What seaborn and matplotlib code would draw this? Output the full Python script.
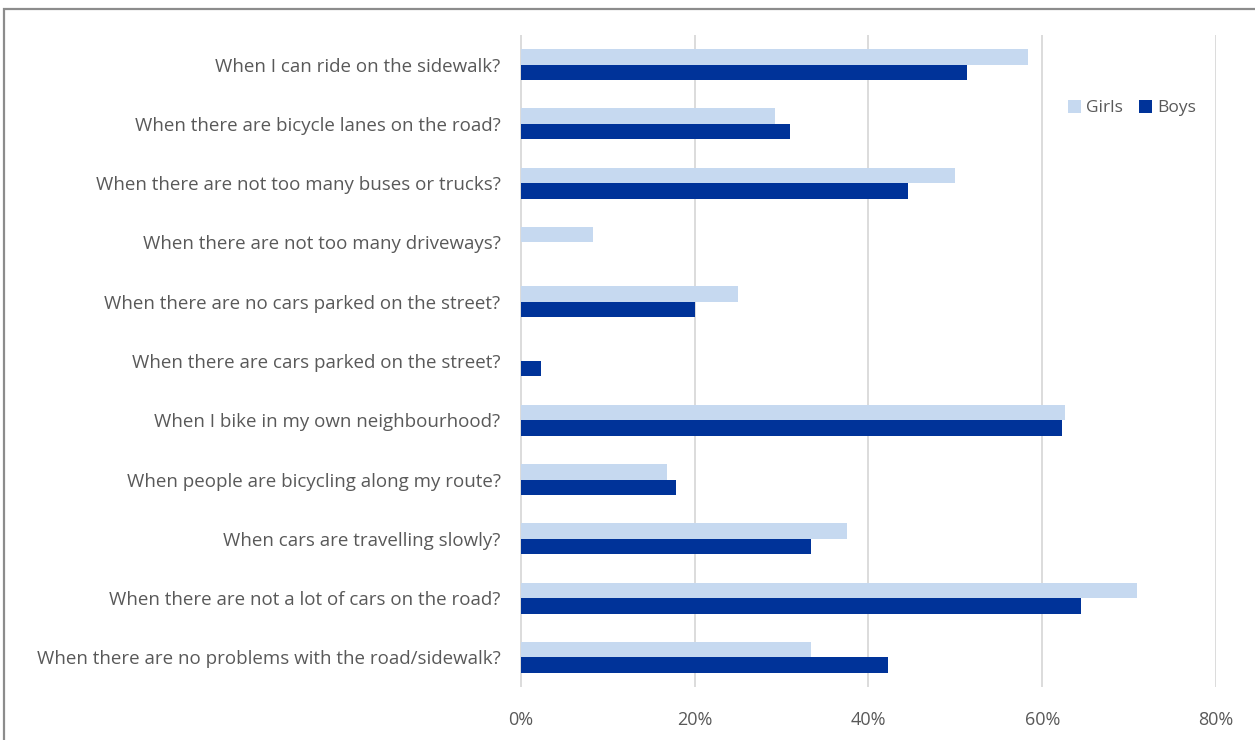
import matplotlib
matplotlib.use("Agg")
import matplotlib.pyplot as plt
from matplotlib.patches import Rectangle
from matplotlib.ticker import FuncFormatter
import pandas as pd
import seaborn as sns

questions = [
    "When I can ride on the sidewalk?",
    "When there are bicycle lanes on the road?",
    "When there are not too many buses or trucks?",
    "When there are not too many driveways?",
    "When there are no cars parked on the street?",
    "When there are cars parked on the street?",
    "When I bike in my own neighbourhood?",
    "When people are bicycling along my route?",
    "When cars are travelling slowly?",
    "When there are not a lot of cars on the road?",
    "When there are no problems with the road/sidewalk?",
]
girls = [58.4, 29.2, 50.0, 8.3, 25.0, 0.0, 62.6, 16.8, 37.5, 70.9, 33.4]
boys = [51.3, 31.0, 44.5, 0.0, 20.0, 2.3, 62.3, 17.8, 33.4, 64.5, 42.2]
groups = ["Girls", "Boys"]
xticks = [0, 20, 40, 60, 80]

df = pd.DataFrame({
    "question": questions * 2,
    "group": ["Girls"] * len(questions) + ["Boys"] * len(questions),
    "value": girls + boys,
})

sns.set_theme(style="white")
plt.rcParams["font.family"] = ["Open Sans", "DejaVu Sans"]

W, H = 1255, 740
fig = plt.figure(figsize=(W / 100, H / 100), dpi=100)
ax = fig.add_axes([520 / W, 1 - 687 / H, (1216 - 520) / W, (687 - 35) / H])

palette = {"Girls": "#C6D9F0", "Boys": "#003399"}
sns.barplot(data=df, y="question", x="value", hue="group", order=questions,
            hue_order=groups, palette=palette, orient="h", width=0.52,
            saturation=1, linewidth=0, ax=ax, zorder=3)

ax.set_xlim(-0.1, 80)
ax.set_ylim(len(questions) - 0.5, -0.5)
ax.set_xticks(xticks)
ax.xaxis.set_major_formatter(FuncFormatter(lambda v, p: f"{v:.0f}%"))
ax.set_xlabel("")
ax.set_ylabel("")
ax.grid(axis="x", color="#D9D9D9", linewidth=1.3, zorder=0)
ax.set_axisbelow(True)
for s in ax.spines.values():
    s.set_visible(False)
ax.tick_params(axis="y", length=0, pad=14, labelsize=13.5, labelcolor="#595959")
ax.tick_params(axis="x", length=0, pad=17, labelsize=13, labelcolor="#595959")

leg = ax.legend(loc="upper left", bbox_to_anchor=(1068 / W, 1 - 100 / H),
                bbox_transform=fig.transFigure, ncol=2, frameon=False,
                handlelength=0.75, handleheight=0.75, handletextpad=0.3,
                columnspacing=0.9, borderaxespad=0, borderpad=0,
                fontsize=12.5)
for t in leg.get_texts():
    t.set_color("#595959")

# chart frame
fig.patches.append(Rectangle((3.5 / W, -0.05), 1.1, 1 - 9 / H + 0.05,
                             transform=fig.transFigure, fill=False,
                             edgecolor="#8C8C8C", linewidth=1.6))

fig.savefig("out.png", dpi=100)
